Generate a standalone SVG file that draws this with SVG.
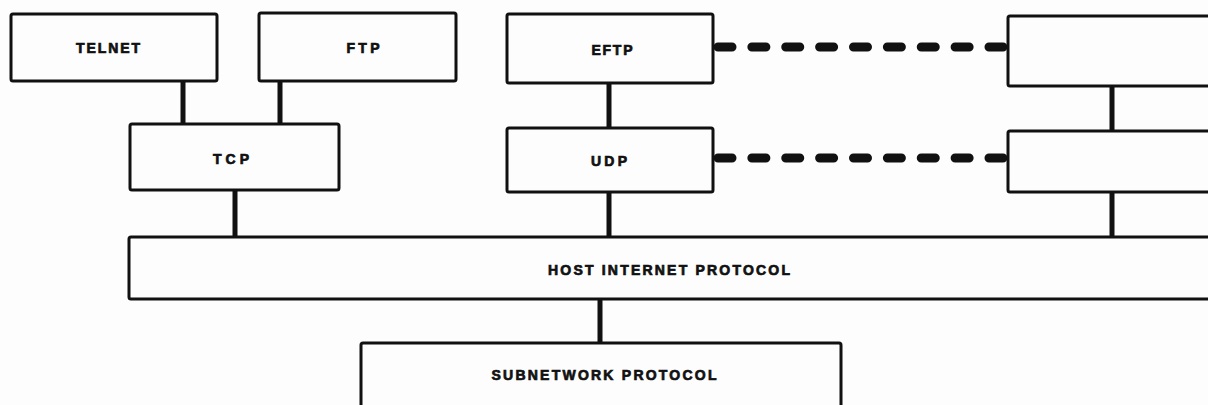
<svg xmlns="http://www.w3.org/2000/svg" width="1208" height="405" viewBox="0 0 1208 405">
<style>
.box{fill:#fdfdfd;stroke:#111;stroke-width:3}
.lbl{font-family:"Liberation Sans",Arial,sans-serif;font-weight:bold;fill:#111;stroke:#111;stroke-width:0.7;text-anchor:middle}
.s{font-size:14px}
.l{font-size:14px}
.c{stroke:#111;stroke-width:5;fill:none}
.d{stroke:#111;stroke-width:9;fill:none;stroke-dasharray:14 19.875;stroke-linecap:round}
</style>
<rect width="1208" height="405" fill="#fdfdfd"/>
<g id="connectors">
<line class="c" x1="183" y1="81" x2="183" y2="125"/>
<line class="c" x1="280" y1="81" x2="280" y2="125"/>
<line class="c" x1="235" y1="190" x2="235" y2="237"/>
<line class="c" x1="609" y1="83" x2="609" y2="128"/>
<line class="c" x1="609" y1="192" x2="609" y2="237"/>
<line class="c" x1="1112" y1="86" x2="1112" y2="131"/>
<line class="c" x1="1112" y1="192" x2="1112" y2="237"/>
<line class="c" x1="600" y1="299" x2="600" y2="343"/>
<line class="d" x1="718" y1="47" x2="1003" y2="47"/>
<line class="d" x1="718" y1="158" x2="1003" y2="158"/>
</g>
<g id="telnet"><rect class="box" x="11" y="14" width="206" height="67" rx="2"/><text class="lbl s" x="108" y="53" textLength="64" lengthAdjust="spacing">TELNET</text></g>
<g id="ftp"><rect class="box" x="259" y="13" width="197" height="68" rx="2"/><text class="lbl s" x="363" y="53" textLength="33" lengthAdjust="spacing">FTP</text></g>
<g id="eftp"><rect class="box" x="507" y="14" width="206" height="69" rx="2"/><text class="lbl s" x="612" y="55" textLength="41" lengthAdjust="spacing">EFTP</text></g>
<g id="right-upper"><rect class="box" x="1008" y="16" width="210" height="70" rx="2"/></g>
<g id="tcp"><rect class="box" x="130" y="124" width="209" height="66" rx="2"/><text class="lbl s" x="231" y="164" textLength="36" lengthAdjust="spacing">TCP</text></g>
<g id="udp"><rect class="box" x="507" y="128" width="206" height="64" rx="2"/><text class="lbl s" x="609" y="166" textLength="36" lengthAdjust="spacing">UDP</text></g>
<g id="right-lower"><rect class="box" x="1008" y="131" width="210" height="61" rx="2"/></g>
<g id="host-internet-protocol"><rect class="box" x="129" y="237" width="1090" height="62" rx="2"/><text class="lbl l" x="669" y="275" textLength="242" lengthAdjust="spacing">HOST INTERNET PROTOCOL</text></g>
<g id="subnetwork-protocol"><rect class="box" x="361" y="343" width="480" height="80" rx="2"/><text class="lbl l" x="604" y="380" textLength="225" lengthAdjust="spacing">SUBNETWORK PROTOCOL</text></g>
</svg>
